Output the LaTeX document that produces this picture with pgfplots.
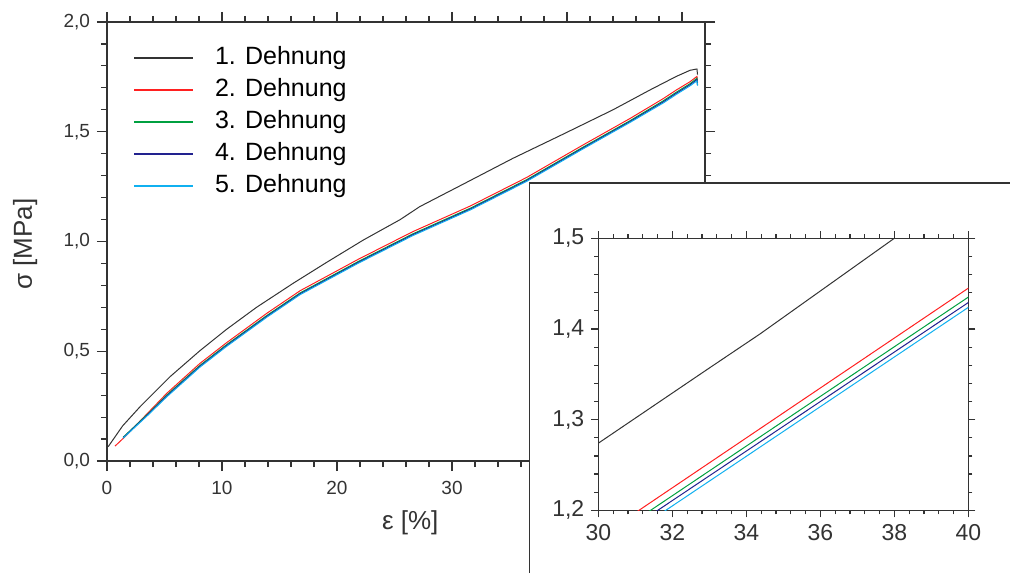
\documentclass[border=0pt]{standalone}
\usepackage{fontspec}
\setmainfont{Liberation Sans}
\usepackage{pgfplots}
\pgfplotsset{compat=1.18}

\definecolor{axgray}{HTML}{333333}
\definecolor{cone}{HTML}{333333}
\definecolor{ctwo}{HTML}{FF2020}
\definecolor{cthree}{HTML}{00A040}
\definecolor{cfour}{HTML}{22228F}
\definecolor{cfive}{HTML}{10B0F0}

% 1 px of the reference = 0.5pt
\pgfplotsset{
  originstyle/.style={
    scale only axis,
    axis line style={axgray, line width=0.75pt},
    every tick/.style={axgray, line width=0.6pt},
    tick align=outside,
    /pgf/number format/assume math mode=true,
    /pgf/number format/use comma,
    every axis plot/.append style={line width=0.5pt},
  },
}

\begin{document}
\begin{tikzpicture}
\path[use as bounding box] (0pt,0pt) rectangle (505pt,286.5pt);

% main plot
\begin{axis}[
  originstyle,
  at={(53.5pt,56pt)}, anchor=south west,
  width=299pt, height=219.5pt,
  xmin=0, xmax=52, ymin=0, ymax=2,
  xtick={0,10,...,50}, minor x tick num=4,
  ytick={0,0.5,...,2}, minor y tick num=4,
  major tick length=5pt, minor tick length=3pt,
  yticklabel style={/pgf/number format/fixed, /pgf/number format/fixed zerofill, /pgf/number format/precision=1},
  tick label style={font=\fontsize{9.5}{11}\selectfont, text=axgray},
  xticklabel style={yshift=-1.5pt},
  xlabel={ε [\%]}, ylabel={σ [MPa]},
  label style={font=\fontsize{13}{15}\selectfont, text=axgray},
  xlabel style={at={(axis description cs:0.507,-0.141)}, anchor=center},
  ylabel style={at={(axis description cs:-0.137,0.494)}, anchor=center},
  legend cell align=left,
  legend image code/.code={\draw[#1] plot coordinates {(0pt,0pt) (29.5pt,0pt)}; \path (40pt,0pt);},
  legend image post style={line width=0.8pt},
  legend style={draw=none, fill=none, inner sep=0pt,
    font=\fontsize{12.5}{15}\selectfont,
    nodes={inner sep=0pt, text height=9.5pt, text depth=3pt},
    row sep=3.5pt,
    at={(axis description cs:0.0435,0.948)}, anchor=north west},
]
\addplot[color=cone] coordinates {
(0.1,0.065)(1.36,0.16)(2.87,0.247)(5.48,0.384)(8.09,0.503)(10.4,0.60)
(13.0,0.70)(16.2,0.81)(19.1,0.905)(22.3,1.007)(25.5,1.10)(27.2,1.159)
(31.0,1.262)(35.3,1.379)(39.7,1.49)(44.0,1.60)(47.2,1.69)(49.5,1.752)
(50.7,1.78)(51.3,1.786)(51.35,1.76)
};
\addlegendentry{1. Dehnung}
\addplot[color=ctwo] coordinates {
(0.7,0.068)(1.71,0.118)(3.5,0.216)(5.19,0.308)(8.09,0.445)(10.4,0.539)
(13.9,0.673)(16.8,0.776)(19.7,0.858)(21.85,0.919)(26.6,1.045)(31.6,1.162)
(36.5,1.292)(41.4,1.44)(45.5,1.561)(48.4,1.652)(49.5,1.690)(50.7,1.728)
(51.3,1.752)(51.35,1.725)
};
\addlegendentry{2. Dehnung}
\addplot[color=cthree] coordinates {
(1.4,0.108)(3.5,0.212)(5.19,0.300)(8.09,0.436)(10.4,0.530)(13.9,0.663)
(16.8,0.766)(19.7,0.848)(21.85,0.909)(26.6,1.035)(31.6,1.152)(36.5,1.282)
(41.4,1.430)(45.5,1.551)(48.4,1.642)(49.5,1.680)(50.7,1.719)(51.3,1.744)
(51.35,1.715)
};
\addlegendentry{3. Dehnung}
\addplot[color=cfour] coordinates {
(1.4,0.106)(3.5,0.209)(5.19,0.296)(8.09,0.432)(10.4,0.526)(13.9,0.659)
(16.8,0.762)(19.7,0.844)(21.85,0.905)(26.6,1.031)(31.6,1.148)(36.5,1.278)
(41.4,1.426)(45.5,1.547)(48.4,1.637)(49.5,1.675)(50.7,1.714)(51.3,1.738)
(51.35,1.712)
};
\addlegendentry{4. Dehnung}
\addplot[color=cfive] coordinates {
(1.4,0.104)(3.5,0.206)(5.19,0.292)(8.09,0.428)(10.4,0.522)(13.9,0.655)
(16.8,0.758)(19.7,0.840)(21.85,0.901)(26.6,1.027)(31.6,1.144)(36.5,1.274)
(41.4,1.422)(45.5,1.543)(48.4,1.632)(49.5,1.670)(50.7,1.709)(51.3,1.732)
(51.35,1.710)
};
\addlegendentry{5. Dehnung}
\end{axis}

% inset frame
\fill[white] (264.65pt,0pt) rectangle (505pt,195pt);
\draw[axgray, line width=0.75pt] (264.65pt,0pt) -- (264.65pt,195pt) -- (505pt,195pt);

% inset plot
\begin{axis}[
  originstyle,
  at={(299.15pt,31.35pt)}, anchor=south west,
  width=185pt, height=136pt,
  xmin=30, xmax=40, ymin=1.2, ymax=1.5,
  xtick={30,32,...,40}, minor x tick num=4,
  ytick={1.2,1.3,1.4,1.5}, minor y tick num=4,
  major tick length=3.5pt, minor tick length=2pt,
  yticklabel style={/pgf/number format/fixed, /pgf/number format/fixed zerofill, /pgf/number format/precision=1},
  tick label style={font=\fontsize{11.5}{13}\selectfont, text=axgray},
]
\addplot[color=cone] coordinates {(30,1.274)(32.93,1.355)(34.37,1.3945)(38.0,1.5)(38.5,1.515)};
\addplot[color=ctwo] coordinates {(30.5,1.1835)(40.2,1.4505)};
\addplot[color=cthree] coordinates {(30.8,1.1832)(40.2,1.4406)};
\addplot[color=cfour] coordinates {(31.0,1.1834)(40.2,1.4346)};
\addplot[color=cfive] coordinates {(31.2,1.1829)(40.2,1.4293)};
\end{axis}
\end{tikzpicture}
\end{document}
